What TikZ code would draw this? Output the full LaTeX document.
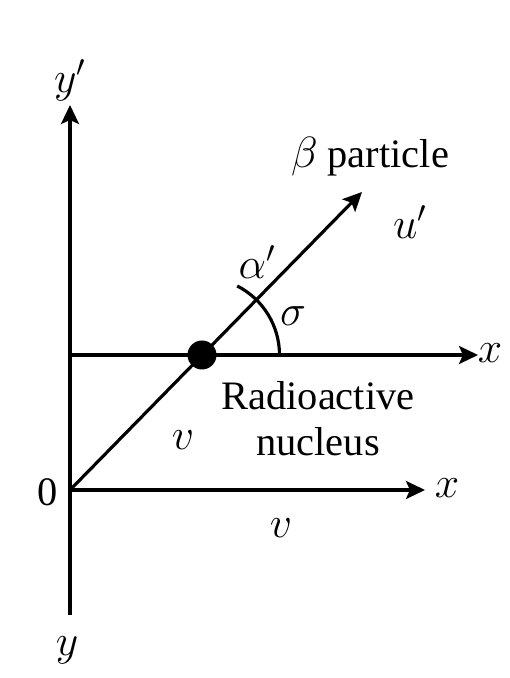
\documentclass[tikz,border=0pt]{standalone}
\usepackage{fontspec}
\setmainfont{Liberation Serif}
\usetikzlibrary{arrows.meta}
\begin{document}
\begin{tikzpicture}[lbl/.style={font=\fontsize{23}{26}\selectfont,inner sep=1pt},
 >={Stealth[length=3.8mm,width=3.6mm,inset=0.8mm]},every path/.style={line width=1.8pt}]
\useasboundingbox (0,0) rectangle (10.2,13.56);
% axes
\coordinate (O) at (1.4,3.76);
\coordinate (ybot) at (1.4,1.26);
\coordinate (ytop) at (1.4,11.46);
\coordinate (xend) at (8.5,3.76);
\coordinate (left) at (1.4,6.46);
\coordinate (xpend) at (9.56,6.46);
\coordinate (tip) at (7.24,9.72);
\node[circle,fill=black,inner sep=0pt,minimum size=0.58cm] (nuc) at (4.04,6.46) {};
\draw[->] (ybot) -- (ytop);
\draw[->] (O) -- (xend);
\draw[->] (left) -- (xpend);
\draw[->] (O) -- (tip);
\draw (nuc.center) ++(0:1.55) arc[start angle=0,end angle=63,radius=1.55];
% labels
\node[lbl] (yp) at (1.4,11.96) {$y'$};
\node[lbl] (yl) at (1.34,0.56) {$y$};
\node[lbl] (zero) at (0.96,3.72) {0};
\node[lbl] (x1) at (8.94,3.8) {$x$};
\node[lbl] (x2) at (9.8,6.5) {$x$};
\node[lbl] (beta) at (7.4,10.42) {$\beta$ particle};
\node[lbl] (up) at (8.2,9.12) {$u'$};
\node[lbl] (al) at (5.14,8.32) {$\alpha'$};
\node[lbl] (sig) at (5.86,7.24) {$\sigma$};
\node[lbl,align=center] (rad) at (6.36,5.18) {Radioactive\\nucleus};
\node[lbl] (v1) at (3.66,4.76) {$v$};
\node[lbl] (v2) at (5.62,3.0) {$v$};
\end{tikzpicture}
\end{document}
